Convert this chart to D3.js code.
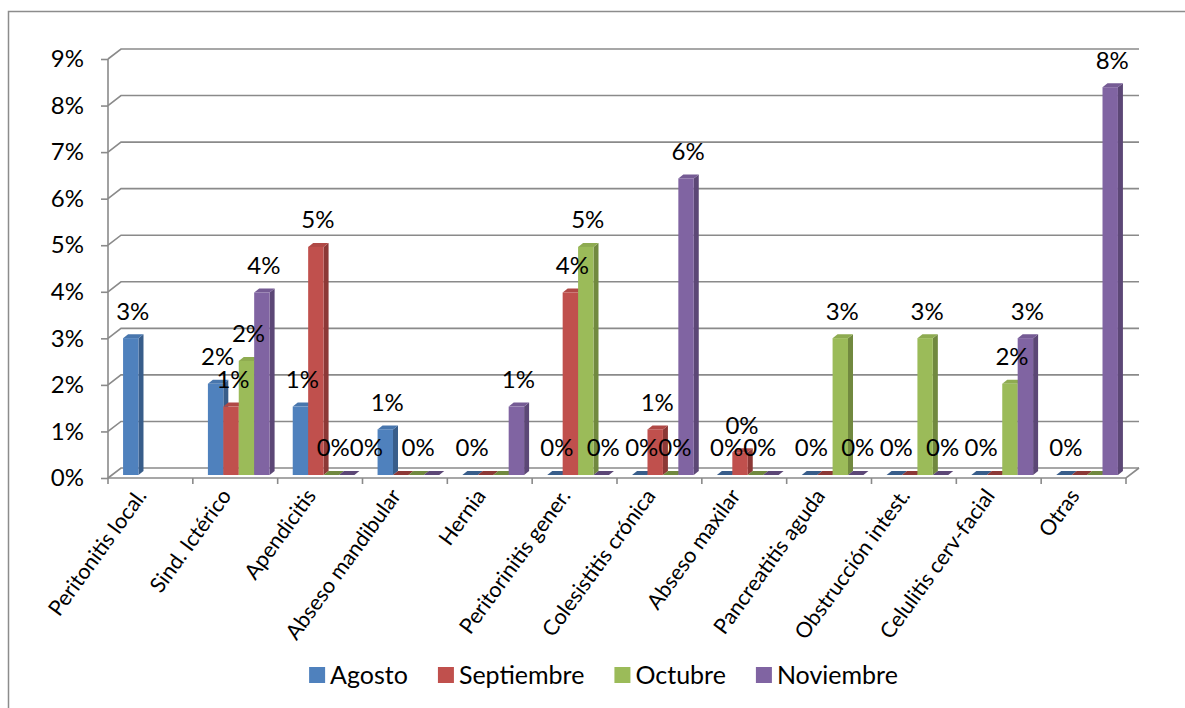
<!DOCTYPE html>
<html>
<head>
<meta charset="utf-8">
<script src="https://cdn.jsdelivr.net/npm/d3@7"></script>
<style>
  body { margin: 0; background: #fff; }
  svg { display: block; }
  text { font-family: Lato, "Noto Sans", sans-serif; fill: #000; }
</style>
</head>
<body>
<svg id="chart" width="1185" height="708"></svg>
<script>
// categories and monthly percentages
const categories = ['Peritonitis local.', 'Sind. Ictérico', 'Apendicitis', 'Abseso mandibular', 'Hernia',
  'Peritorinitis gener.', 'Colesistitis crónica', 'Abseso maxilar', 'Pancreatitis aguda',
  'Obstrucción intest.', 'Celulitis cerv-facial', 'Otras'];
const seriesNames = ['Agosto', 'Septiembre', 'Octubre', 'Noviembre'];
const agosto     = [2.94, 1.96, 1.47, 0.98, 0, 0, 0, 0, 0, 0, 0, 0];
const septiembre = [null, 1.47, 4.90, 0, 0, 3.92, 0.98, 0.49, 0, 0, 0, 0];
const octubre    = [null, 2.45, 0, 0, 0, 4.90, 0, 0, 2.94, 2.94, 1.96, 0];
const noviembre  = [null, 3.92, 0, 0, 1.47, 0, 6.37, 0, 0, 0, 2.94, 8.33];
const yTicks = [0, 1, 2, 3, 4, 5, 6, 7, 8, 9];
// data labels that are not shown in the original
const hiddenLabels = ['Abseso mandibular|Septiembre', 'Abseso mandibular|Noviembre',
  'Hernia|Septiembre', 'Hernia|Octubre', 'Abseso maxilar|Noviembre',
  'Pancreatitis aguda|Septiembre', 'Obstrucción intest.|Septiembre',
  'Celulitis cerv-facial|Septiembre', 'Otras|Septiembre', 'Otras|Octubre'];

const colors = ['#4F81BD', '#C0504D', '#9BBB59', '#8064A2'];
const sideColors = ['#385D8A', '#8C3836', '#71893F', '#5C4776'];

const svg = d3.select('#chart');
const fontSize = 24;
const catFontSize = 21.5;
const legendFontSize = 25;
const gridColor = '#8a8a8a';

// 3d offsets of the back wall and of the columns
const DX = 13, DY = -10;
const BDX = 3.5, BDY = -3;
const SDX = 5, SDY = -4;

const x = d3.scaleBand().domain(categories).range([108, 1126]);
const xs = d3.scaleBand().domain(seriesNames).range([0, x.bandwidth()]).paddingOuter(0.75);
const y = d3.scaleLinear().domain([0, 9]).range([478, 59]);
const color = d3.scaleOrdinal().domain(seriesNames).range(colors);
const sideColor = d3.scaleOrdinal().domain(seriesNames).range(sideColors);

// outer frame
svg.append('rect')
  .attr('x', 8.5).attr('y', 11.5)
  .attr('width', 1200).attr('height', 720)
  .attr('fill', 'none')
  .attr('stroke', '#8c8c8c')
  .attr('stroke-width', 1.5);

// back wall gridlines + left wall diagonals
const walls = svg.append('g')
  .attr('fill', 'none')
  .attr('stroke', gridColor)
  .attr('stroke-width', 1.6);

walls.selectAll('.grid')
  .data(yTicks)
  .enter()
  .append('path')
  .attr('class', 'grid')
  .attr('d', (t) => `M${x.range()[0]},${y(t)} l${DX},${DY} H${x.range()[1] + DX}`);

// floor
walls.append('path')
  .attr('d', `M${x.range()[0]},${y(0)} H${x.range()[1]} l${DX},${DY}`);

// front value axis
const yAxis = svg.append('g')
  .attr('transform', `translate(${x.range()[0]},0)`)
  .call(d3.axisLeft(y).tickValues(yTicks).tickSize(7).tickPadding(17).tickFormat((d) => d + '%'));
yAxis.selectAll('line, path').attr('stroke', gridColor).attr('stroke-width', 1.6);
yAxis.select('.domain').attr('d', `M0,${y(9)}V${y(0)}`);
yAxis.selectAll('text')
  .style('font-family', 'Lato, sans-serif')
  .style('font-size', fontSize + 'px')
  .attr('fill', '#000');

// category ticks on the floor edge
svg.append('g')
  .selectAll('line')
  .data(d3.range(categories.length + 1))
  .enter()
  .append('line')
  .attr('x1', (i) => x.range()[0] + i * x.step())
  .attr('x2', (i) => x.range()[0] + i * x.step())
  .attr('y1', y(0))
  .attr('y2', y(0) + 6)
  .attr('stroke', gridColor)
  .attr('stroke-width', 1.6);

// category labels, rotated
svg.append('g')
  .selectAll('text')
  .data(categories)
  .enter()
  .append('text')
  .attr('transform', (c) => `translate(${x(c) + x.bandwidth() / 2 - 3},${y(0) + 18}) rotate(-54)`)
  .attr('text-anchor', 'end')
  .style('font-size', catFontSize + 'px')
  .text((c) => c);

// columns
const allSeries = [agosto, septiembre, octubre, noviembre];
const bars = [];
categories.forEach((c, i) => {
  seriesNames.forEach((s, j) => {
    const v = allSeries[j][i];
    if (v !== null) bars.push({ category: c, series: s, value: v });
  });
});

const base = y(0) + BDY;
const bx = (d) => x(d.category) + xs(d.series) + BDX;
const barTop = (d) => base - (y(0) - y(d.value));
const w = xs.bandwidth();

const barG = svg.append('g')
  .selectAll('g')
  .data(bars)
  .enter()
  .append('g');

barG.filter((d) => d.value > 0)
  .append('path')
  .attr('fill', (d) => sideColor(d.series))
  .attr('d', (d) => `M${bx(d) + w},${barTop(d)} l${SDX},${SDY} V${base + SDY} l${-SDX},${-SDY} Z`);

barG.append('path')
  .attr('fill', (d) => (d.value > 0 ? d3.color(color(d.series)).darker(0.25) : sideColor(d.series)))
  .attr('d', (d) => `M${bx(d)},${barTop(d)} h${w} l${SDX},${SDY} h${-w} Z`);

barG.filter((d) => d.value > 0)
  .append('rect')
  .attr('fill', (d) => color(d.series))
  .attr('x', bx)
  .attr('y', barTop)
  .attr('width', w)
  .attr('height', (d) => base - barTop(d));

// data labels; a label that would sit on the previous one is pushed right
const labelG = svg.append('g');
const labels = labelG.selectAll('text')
  .data(bars.filter((d) => !hiddenLabels.includes(d.category + '|' + d.series)))
  .enter()
  .append('text')
  .attr('x', (d) => bx(d) + w / 2 + 2)
  .attr('y', (d) => barTop(d) - 27)
  .attr('dy', '0.35em')
  .attr('text-anchor', 'middle')
  .style('font-size', fontSize + 'px')
  .text((d) => Math.round(d.value) + '%');

const placed = [];
labels.each(function (d) {
  const el = d3.select(this);
  const lw = this.getComputedTextLength();
  let cx = +el.attr('x');
  const cy = +el.attr('y');
  placed.forEach((p) => {
    if (Math.abs(p.cy - cy) < 18 && cx - lw / 2 < p.right && cx > p.cx) {
      cx = p.right + lw / 2;
    }
  });
  el.attr('x', cx);
  placed.push({ cx, cy, right: cx + lw / 2 });
});

// legend
const legend = svg.append('g').attr('transform', 'translate(0,675)');
const items = legend.selectAll('g')
  .data(seriesNames)
  .enter()
  .append('g');
items.append('rect')
  .attr('y', -8)
  .attr('width', 16)
  .attr('height', 16)
  .attr('fill', (s) => color(s));
items.append('text')
  .attr('x', 21)
  .attr('dy', '0.35em')
  .style('font-size', legendFontSize + 'px')
  .text((s) => s);

let cursor = 0;
const offsets = [];
items.each(function () {
  offsets.push(cursor);
  cursor += this.getBBox().width + 30;
});
const start = 603.5 - (cursor - 30) / 2;
items.attr('transform', (s, i) => `translate(${start + offsets[i]},0)`);
</script>
</body>
</html>
